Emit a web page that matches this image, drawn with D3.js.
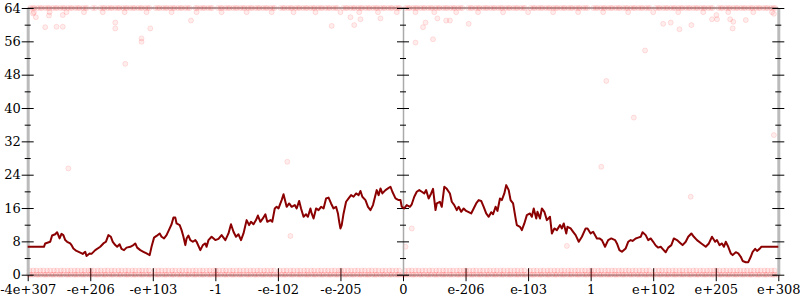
<!DOCTYPE html>
<html>
<head>
<meta charset="utf-8">
<script src="https://cdn.jsdelivr.net/npm/d3@7"></script>
<style>
body { margin: 0; background: #fff; }
</style>
</head>
<body>
<div id="chart"></div>
<script>
// tick labels along the bottom, one per twelfth of the bit range
var xLabels = ['-4e+307', '-e+206', '-e+103', '-1', '-e-102', '-e-205', '0',
               'e-206', 'e-103', '1', 'e+102', 'e+205', 'e+308'];
var yTicks = d3.range(0, 65, 4);

// running average line [position, bits]
var avgLine = [[0,6.7],[0.26,6.7],[0.28,7.5],[0.36,7.9],[0.39,9.4],[0.44,9.7],[0.47,10.2],[0.51,8.7],[0.54,9.8],[0.57,9.5],
  [0.6,8.3],[0.63,7.9],[0.68,7.5],[0.7,7.1],[0.73,6.3],[0.78,5.7],[0.84,5.3],[0.88,5.0],[0.92,5.5],[0.94,4.5],
  [0.99,5.1],[1.02,5.0],[1.08,5.9],[1.16,6.7],[1.21,7.5],[1.25,7.9],[1.29,9.5],[1.33,9.1],[1.36,7.9],[1.4,7.1],
  [1.43,6.7],[1.47,7.3],[1.5,6.2],[1.54,5.9],[1.58,6.5],[1.64,6.7],[1.69,7.1],[1.72,7.5],[1.75,6.5],[1.8,5.9],
  [1.85,5.5],[1.9,5.1],[1.95,4.7],[1.98,6.7],[2.02,8.9],[2.06,9.3],[2.11,9.9],[2.14,9.1],[2.18,8.7],[2.22,9.5],
  [2.27,11.1],[2.3,12.1],[2.33,13.7],[2.36,13.7],[2.38,12.3],[2.43,11.9],[2.46,10.7],[2.49,9.1],[2.52,7.1],[2.54,8.7],
  [2.57,9.4],[2.6,8.3],[2.64,7.9],[2.68,8.3],[2.7,7.9],[2.76,5.9],[2.8,7.1],[2.84,7.5],[2.86,6.7],[2.89,8.3],[2.94,9.1],
  [3.0,8.3],[3.05,8.6],[3.1,9.5],[3.16,8.3],[3.21,9.9],[3.25,12.1],[3.29,10.3],[3.33,9.1],[3.37,9.7],[3.41,8.3],
  [3.45,9.9],[3.5,13.1],[3.54,11.9],[3.57,12.7],[3.61,12.1],[3.65,13.1],[3.68,14.2],[3.72,12.7],[3.76,13.5],[3.8,14.5],
  [3.83,12.7],[3.88,13.1],[3.91,12.7],[3.95,15.9],[3.98,16.3],[4.01,15.9],[4.04,17.1],[4.06,17.9],[4.09,19.3],[4.12,17.5],
  [4.14,16.3],[4.18,17.1],[4.22,16.3],[4.27,16.7],[4.3,15.9],[4.34,17.7],[4.37,15.9],[4.41,13.9],[4.45,14.5],[4.48,13.9],
  [4.52,15.9],[4.54,14.7],[4.57,13.5],[4.61,15.9],[4.65,15.5],[4.69,16.3],[4.73,15.9],[4.77,18.3],[4.81,18.5],[4.85,17.1],
  [4.89,15.9],[4.93,16.3],[4.96,14.7],[4.98,12.7],[5.0,11.1],[5.02,11.9],[5.05,14.7],[5.09,17.5],[5.13,18.3],[5.17,19.1],
  [5.21,18.7],[5.25,19.5],[5.29,19.1],[5.32,20.1],[5.35,18.7],[5.4,17.9],[5.44,16.3],[5.48,15.5],[5.52,16.7],[5.56,19.1],
  [5.58,20.3],[5.61,19.1],[5.64,20.7],[5.67,19.5],[5.72,20.3],[5.76,20.7],[5.8,21.1],[5.83,19.9],[5.88,18.3],[5.93,17.9],
  [5.96,17.9],[5.98,16.3],[6.02,15.9],[6.06,16.7],[6.11,16.3],[6.14,16.9],[6.18,18.7],[6.22,19.9],[6.26,20.3],[6.3,19.9],
  [6.34,19.5],[6.37,20.3],[6.41,18.3],[6.45,19.5],[6.48,20.6],[6.52,15.5],[6.54,17.1],[6.59,17.5],[6.62,16.3],[6.66,21.1],
  [6.7,20.6],[6.75,19.5],[6.78,17.5],[6.82,16.7],[6.86,15.5],[6.89,16.3],[6.93,15.1],[6.97,15.9],[7.01,15.3],[7.05,15.0],
  [7.09,14.7],[7.13,15.9],[7.17,17.1],[7.21,17.9],[7.25,17.7],[7.29,16.3],[7.33,14.7],[7.37,13.9],[7.41,15.0],[7.44,14.5],
  [7.48,16.3],[7.51,15.3],[7.55,18.3],[7.58,17.9],[7.62,19.5],[7.65,21.5],[7.69,20.3],[7.72,17.9],[7.76,17.1],[7.8,13.5],
  [7.82,11.9],[7.87,11.5],[7.9,10.7],[7.94,12.3],[7.98,14.3],[8.03,14.7],[8.06,13.9],[8.09,15.9],[8.13,13.5],[8.15,15.1],
  [8.19,13.5],[8.22,15.9],[8.26,15.1],[8.3,13.1],[8.35,13.9],[8.38,9.9],[8.42,11.1],[8.46,10.7],[8.51,11.9],[8.54,11.1],
  [8.57,12.3],[8.61,9.9],[8.63,11.5],[8.68,11.1],[8.72,10.3],[8.76,9.5],[8.81,7.9],[8.86,9.1],[8.92,11.1],[8.95,11.1],
  [9.0,9.9],[9.04,10.3],
  [9.1,8.7],[9.14,8.7],[9.18,8.3],[9.23,6.7],[9.28,8.3],[9.33,8.7],[9.39,8.3],[9.42,7.5],[9.46,5.9],[9.5,5.5],
  [9.56,6.3],[9.6,7.9],[9.64,8.3],[9.67,8.1],[9.72,8.7],[9.76,8.9],[9.8,9.1],[9.83,10.2],[9.88,9.5],[9.92,8.3],
  [9.96,8.7],[10.0,7.9],[10.04,7.0],[10.08,6.5],[10.12,6.7],[10.15,6.2],[10.2,5.4],[10.24,6.5],[10.29,7.1],[10.33,8.7],
  [10.38,8.3],[10.44,7.5],[10.47,7.1],[10.52,7.9],[10.56,9.1],[10.61,9.9],[10.65,9.1],[10.7,8.3],[10.77,7.5],[10.84,6.7],
  [10.89,7.5],[10.94,9.1],[10.99,7.9],[11.02,8.3],[11.06,7.1],[11.1,7.5],[11.13,6.7],[11.16,7.9],[11.2,6.7],[11.24,5.1],
  [11.27,4.7],[11.32,5.4],[11.36,5.1],[11.4,4.3],[11.43,3.3],[11.48,3.0],[11.52,3.0],[11.56,4.3],[11.59,5.5],[11.63,6.2],
  [11.66,5.7],[11.7,6.2],[11.73,6.7],[12,6.7]];

// sample dots: positions of samples with 0, 1, 63 and 64 bits set
var bits0 = [0.02,0.05,0.09,0.14,0.17,0.21,0.26,0.29,0.33,0.38,0.41,0.45,0.5,0.53,0.57,0.62,0.65,0.69,0.74,0.77,0.81,0.86,0.89,0.93,0.98,
  1.01,1.06,1.1,1.13,1.18,1.22,1.25,1.3,1.34,1.37,1.42,1.46,1.49,1.54,1.58,1.61,1.66,1.7,1.73,1.78,1.82,1.85,1.9,1.94,1.97,
  2.03,2.07,2.1,2.15,2.19,2.22,2.27,2.31,2.34,2.39,2.43,2.46,2.51,2.55,2.58,2.63,2.67,2.7,2.75,2.79,2.82,2.87,2.91,2.94,2.99,
  3.02,3.05,3.09,3.14,3.17,3.21,3.26,3.29,3.33,3.38,3.41,3.45,3.5,3.53,3.57,3.62,3.65,3.69,3.74,3.77,3.81,3.86,3.89,3.93,3.98,
  4.01,4.06,4.1,4.13,4.18,4.22,4.25,4.3,4.34,4.37,4.42,4.46,4.49,4.54,4.58,4.61,4.66,4.7,4.73,4.78,4.82,4.85,4.9,4.94,4.97,
  5.03,5.07,5.1,5.15,5.19,5.22,5.27,5.31,5.34,5.39,5.43,5.46,5.51,5.55,5.58,5.63,5.67,5.7,5.75,5.79,5.82,5.87,5.91,5.94,5.99,
  6.02,6.05,6.09,6.14,6.17,6.21,6.26,6.29,6.33,6.38,6.41,6.45,6.5,6.53,6.57,6.62,6.65,6.69,6.74,6.77,6.81,6.86,6.89,6.93,6.98,
  7.01,7.06,7.1,7.13,7.18,7.22,7.25,7.3,7.34,7.37,7.42,7.46,7.49,7.54,7.58,7.61,7.66,7.7,7.73,7.78,7.82,7.85,7.9,7.94,7.97,
  8.03,8.07,8.1,8.15,8.19,8.22,8.27,8.31,8.34,8.39,8.43,8.46,8.51,8.55,8.58,8.63,8.67,8.7,8.75,8.79,8.82,8.87,8.91,8.94,8.99,
  9.02,9.05,9.09,9.14,9.17,9.21,9.26,9.29,9.33,9.38,9.41,9.45,9.5,9.53,9.57,9.62,9.65,9.69,9.74,9.77,9.81,9.86,9.89,9.93,9.98,
  10.01,10.06,10.1,10.13,10.18,10.22,10.25,10.3,10.34,10.37,10.42,10.46,10.49,10.54,10.58,10.61,10.66,10.7,10.73,10.78,10.82,10.85,10.9,10.94,10.97,
  11.03,11.07,11.1,11.15,11.19,11.22,11.27,11.31,11.34,11.39,11.43,11.46,11.51,11.55,11.58,11.63,11.67,11.7,11.75,11.79,11.82,11.87,11.91,11.94,11.99];
var bits1 = [0.03,0.09,0.14,0.2,0.25,0.31,0.36,0.42,0.47,0.53,0.58,0.64,0.69,0.75,0.8,0.86,0.91,0.97,
  1.01,1.06,1.12,1.17,1.23,1.28,1.34,1.39,1.45,1.5,1.56,1.61,1.67,1.72,1.78,1.83,1.89,1.94,
  2.03,2.09,2.14,2.2,2.25,2.31,2.36,2.42,2.47,2.53,2.58,2.64,2.69,2.75,2.8,2.86,2.91,2.97,
  3.01,3.06,3.12,3.17,3.23,3.28,3.34,3.39,3.45,3.5,3.56,3.61,3.67,3.72,3.78,3.83,3.89,3.94,
  4.03,4.09,4.14,4.2,4.25,4.31,4.36,4.42,4.47,4.53,4.58,4.64,4.69,4.75,4.8,4.86,4.91,4.97,
  5.01,5.06,5.12,5.17,5.23,5.28,5.34,5.39,5.45,5.5,5.56,5.61,5.67,5.72,5.78,5.83,5.89,5.94,
  6.03,6.09,6.14,6.2,6.25,6.31,6.36,6.42,6.47,6.53,6.58,6.64,6.69,6.75,6.8,6.86,6.91,6.97,
  7.01,7.06,7.12,7.17,7.23,7.28,7.34,7.39,7.45,7.5,7.56,7.61,7.67,7.72,7.78,7.83,7.89,7.94,
  8.03,8.09,8.14,8.2,8.25,8.31,8.36,8.42,8.47,8.53,8.58,8.64,8.69,8.75,8.8,8.86,8.91,8.97,
  9.01,9.06,9.12,9.17,9.23,9.28,9.34,9.39,9.45,9.5,9.56,9.61,9.67,9.72,9.78,9.83,9.89,9.94,
  10.03,10.09,10.14,10.2,10.25,10.31,10.36,10.42,10.47,10.53,10.58,10.64,10.69,10.75,10.8,10.86,10.91,10.97,
  11.01,11.06,11.12,11.17,11.23,11.28,11.34,11.39,11.45,11.5,11.56,11.61,11.67,11.72,11.78,11.83,11.89,11.94];
var bits64 = [0.04,0.08,0.11,0.16,0.2,0.23,0.28,0.32,0.35,0.4,0.44,0.47,0.52,0.56,0.59,0.64,0.68,0.71,0.76,0.8,0.83,0.88,0.92,0.95,
  1.04,1.08,1.16,1.2,1.23,1.28,1.32,1.35,1.4,1.44,1.47,1.52,1.56,1.59,1.64,1.68,1.71,1.76,1.8,1.83,1.88,1.92,1.95,
  2.04,2.08,2.11,2.16,2.2,2.23,2.28,2.32,2.35,2.4,2.44,2.47,2.52,2.56,2.59,2.68,2.71,2.76,2.8,2.83,2.88,2.92,2.95,
  3.04,3.08,3.11,3.16,3.2,3.23,3.28,3.32,3.35,3.4,3.44,3.47,3.52,3.56,3.59,3.64,3.68,3.71,3.76,3.8,3.83,3.88,3.92,3.95,
  4.04,4.08,4.11,4.16,4.2,4.23,4.28,4.32,4.35,4.4,4.44,4.47,4.52,4.56,4.59,4.64,4.68,4.71,4.76,4.8,4.83,4.88,4.92,4.95,
  5.04,5.08,5.11,5.16,5.2,5.23,5.28,5.32,5.35,5.4,5.44,5.47,5.52,5.56,5.59,5.64,5.68,5.71,5.76,5.8,5.83,5.88,5.92,5.95,
  6.04,6.08,6.11,6.16,6.2,6.23,6.28,6.32,6.35,6.4,6.44,6.47,6.52,6.56,6.59,6.64,6.68,6.71,6.76,6.8,6.83,6.88,6.92,6.95,
  7.04,7.08,7.11,7.16,7.2,7.23,7.28,7.32,7.35,7.4,7.44,7.47,7.52,7.56,7.59,7.64,7.68,7.71,7.76,7.8,7.83,7.88,7.92,7.95,
  8.04,8.08,8.11,8.16,8.2,8.23,8.28,8.32,8.35,8.4,8.44,8.47,8.52,8.56,8.59,8.64,8.68,8.71,8.76,8.8,8.83,8.88,8.92,8.95,
  9.04,9.08,9.11,9.16,9.2,9.23,9.28,9.32,9.35,9.4,9.44,9.47,9.52,9.56,9.59,9.64,9.68,9.71,9.76,9.8,9.83,9.88,9.92,9.95,
  10.04,10.08,10.11,10.16,10.2,10.23,10.28,10.32,10.35,10.4,10.44,10.47,10.52,10.56,10.59,10.64,10.68,10.71,10.76,10.8,10.83,10.88,10.92,10.95,
  11.04,11.08,11.11,11.16,11.2,11.23,11.28,11.32,11.35,11.4,11.44,11.47,11.52,11.56,11.59,11.64,11.68,11.71,11.76,11.8,11.83,11.88,11.92,11.95];
var bits63 = [0.1,0.35,0.62,0.9,1.2,1.55,1.9,2.3,2.7,3.1,3.5,3.9,4.25,4.6,5.0,5.3,5.6,5.9,6.2,6.5,6.85,7.2,7.6,8.0,8.4,8.8,
  9.2,9.6,10.0,10.4,10.8,11.2,11.6,11.9];
// loose samples [position, bits]
var strays = [[0.085,62.7],[0.13,61.8],[0.28,59.4],[0.34,62.2],[0.46,59.5],[0.56,59.5],[0.56,62.3],[1.4,60.5],[1.4,59.1],
  [1.56,50.6],[1.82,56.7],[1.82,55.9],[1.96,59.1],[2.61,61.0],[10.16,60.2],[10.28,60.5],[10.42,58.9],[10.61,59.9],
  [9.87,53.8],[9.25,46.5],[9.69,37.7],[10.94,61.3],[11.02,61.3],[11.01,62.3],[11.23,61.3],[11.28,60.7],[11.27,59.1],
  [11.48,61.1],[11.93,62.6],[11.93,33.5],[4.86,59.7],[5.16,61.8],[5.22,59.9],[5.32,61.3],[5.64,61.5],[6.2,55.7],
  [6.32,59.4],[6.36,60.5],[6.48,56.5],[6.55,61.5],[6.69,61.0],[6.75,61.0],[7.05,60.2],[0.65,25.5],[4.15,27.1],
  [4.2,9.3],[6.14,11.1],[6.04,6.7],[8.62,6.9],[9.17,25.9],[10.6,18.7]];

var margin = { top: 8, left: 27.7, bottom: 25.3, right: 21.7 },
    width = 800 - margin.left - margin.right,
    height = 300 - margin.top - margin.bottom;

var svg = d3.select('#chart').append('svg')
    .attr('width', 800)
    .attr('height', 300)
    .append('g')
    .attr('transform', 'translate(' + margin.left + ',' + margin.top + ')');

var x = d3.scaleLinear().domain([0, 12]).range([0, width]);
var y = d3.scaleLinear().domain([0, 64]).range([height, 0]);

var font = '"DejaVu Serif", serif';
var major = d => d % 8 === 0;

// frame: top line and bottom axis line
svg.append('line')
    .attr('x1', 0).attr('x2', width)
    .attr('y1', y(64)).attr('y2', y(64))
    .attr('stroke', '#aaa').attr('stroke-width', 2);

var xAxis = d3.axisBottom(x)
    .tickValues(d3.range(13))
    .tickFormat(i => xLabels[i])
    .tickSizeOuter(0);

var gx = svg.append('g')
    .attr('transform', 'translate(0,' + height + ')')
    .call(xAxis)
    .attr('font-family', font)
    .attr('font-size', 13);
gx.select('.domain').attr('stroke', '#aaa').attr('stroke-width', 2);
gx.selectAll('.tick line').attr('y1', -6.5).attr('y2', 6.5).attr('stroke', '#000');
gx.selectAll('.tick text').attr('y', 10).attr('dy', '0.71em').attr('fill', '#000');

// dots
var dots = [];
bits0.forEach(u => dots.push([u, 0]));
bits1.forEach(u => dots.push([u, 1]));
bits63.forEach(u => dots.push([u, 63]));
bits64.forEach(u => dots.push([u, 64]));
strays.forEach(d => dots.push(d));

svg.append('g').selectAll('circle')
    .data(dots)
    .enter()
    .append('circle')
    .attr('cx', d => x(d[0]))
    .attr('cy', d => y(d[1]))
    .attr('r', 2.5)
    .attr('fill', 'red')
    .attr('fill-opacity', 0.07)
    .attr('stroke', 'red')
    .attr('stroke-opacity', 0.11)
    .attr('stroke-width', 1);

// y axes: left with labels, middle and right without
function yAxis(g, pos, lineColor, lineWidth, labels) {
    var axis = d3.axisLeft(y)
        .tickValues(yTicks)
        .tickFormat(d => (labels && major(d)) ? d : '')
        .tickSizeOuter(0);
    g.attr('transform', 'translate(' + pos + ',0)')
        .call(axis)
        .attr('font-family', font)
        .attr('font-size', 13);
    g.select('.domain').attr('stroke', lineColor).attr('stroke-width', lineWidth);
    g.selectAll('.tick line')
        .attr('x1', d => major(d) ? -6 : -3)
        .attr('x2', d => major(d) ? 6 : 3)
        .attr('stroke', '#000');
    g.selectAll('.tick text').attr('x', -7).attr('dy', '0.33em').attr('fill', '#000');
}

svg.append('g').call(g => yAxis(g, 0, '#bbb', 3, true));
svg.append('g').call(g => yAxis(g, x(6), '#aaa', 1.5, false));
svg.append('g').call(g => yAxis(g, width, '#bbb', 3, false));

// running average
var line = d3.line()
    .x(d => x(d[0]))
    .y(d => y(d[1]));

svg.append('path')
    .datum(avgLine)
    .attr('d', line)
    .attr('fill', 'none')
    .attr('stroke', '#8b0000')
    .attr('stroke-width', 2)
    .attr('stroke-linejoin', 'round');
</script>
</body>
</html>
